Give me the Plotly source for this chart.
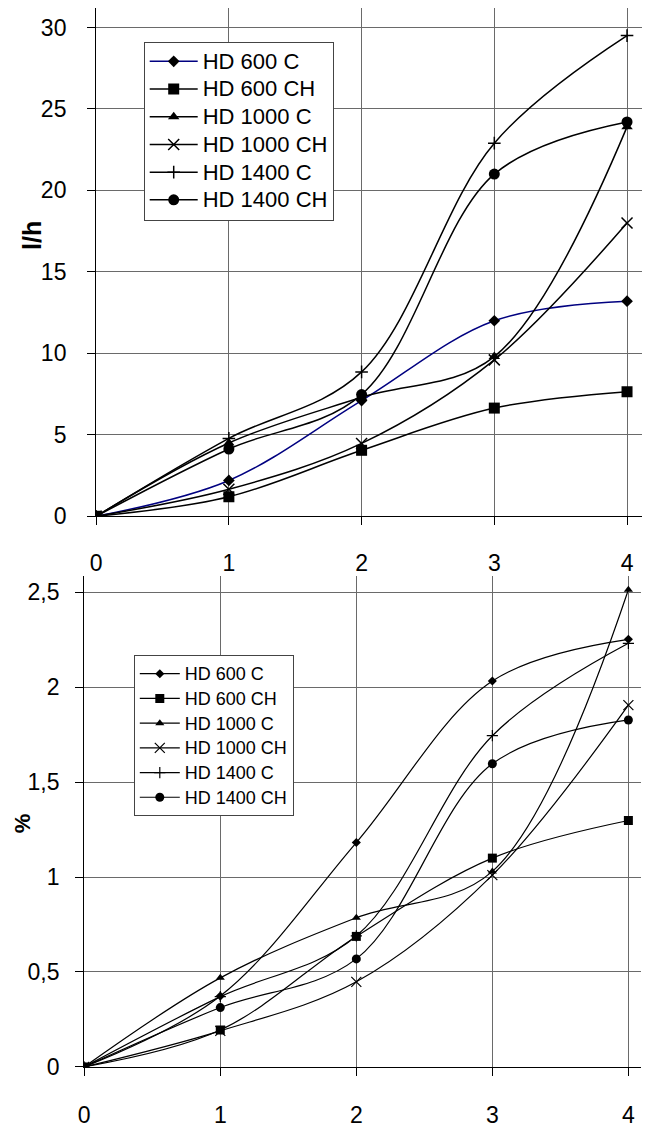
import plotly.graph_objects as go

# ---------------- data ----------------
x_vals = [0, 1, 2, 3, 4]
series_names = ["HD 600 C", "HD 600 CH", "HD 1000 C", "HD 1000 CH", "HD 1400 C", "HD 1400 CH"]

# top chart (l/h)
flow_600C = [0, 2.2, 7.1, 12.0, 13.2]
flow_600CH = [0, 1.2, 4.05, 6.64, 7.65]
flow_1000C = [0, 4.5, 7.3, 9.8, 23.9]
flow_1000CH = [0, 1.66, 4.47, 9.6, 18.0]
flow_1400C = [0, 4.78, 8.86, 22.9, 29.5]
flow_1400CH = [0, 4.13, 7.47, 21.0, 24.2]

# bottom chart (%)
pct_600C = [0, 0.373, 1.182, 2.033, 2.253]
pct_600CH = [0, 0.194, 0.6875, 1.10, 1.298]
pct_1000C = [0, 0.469, 0.786, 1.03, 2.514]
pct_1000CH = [0, 0.19, 0.448, 1.01, 1.906]
pct_1400C = [0, 0.37, 0.69, 1.745, 2.232]
pct_1400CH = [0, 0.3125, 0.569, 1.597, 1.828]

top_tickvals = [0, 5, 10, 15, 20, 25, 30]
top_ticktext = ["0", "5", "10", "15", "20", "25", "30"]
bot_tickvals = [0, 0.5, 1, 1.5, 2, 2.5]
bot_ticktext = ["0", "0,5", "1", "1,5", "2", "2,5"]
x_tickvals = [0, 1, 2, 3, 4]
x_ticktext = ["0", "1", "2", "3", "4"]

top_series = [flow_600C, flow_600CH, flow_1000C, flow_1000CH, flow_1400C, flow_1400CH]
bot_series = [pct_600C, pct_600CH, pct_1000C, pct_1000CH, pct_1400C, pct_1400CH]

# ---------------- styles ----------------
FONT = "Liberation Sans, Arial, sans-serif"
symbols = ["diamond", "square", "triangle-up", "x-thin", "cross-thin", "circle"]
top_sizes = [9, 11, 10, 11, 9, 11]
bot_sizes = [7, 9, 8, 10, 8, 9]
top_line_colors = ["#000080", "black", "black", "black", "black", "black"]


def label(name, px):
    return '<span style="font-size:%dpx">%s</span>' % (px, name)


fig = go.Figure()

for i, name in enumerate(series_names):
    thin = symbols[i] in ("x-thin", "cross-thin")
    fig.add_trace(go.Scatter(
        x=x_vals, y=top_series[i], name=label(name, 22), mode="lines+markers",
        line=dict(color=top_line_colors[i], width=1.5, shape="spline", smoothing=1.0),
        marker=dict(symbol=symbols[i], size=top_sizes[i], color="black",
                    line=dict(color="black", width=1.5 if thin else 0)),
        xaxis="x", yaxis="y", legend="legend",
    ))

for i, name in enumerate(series_names):
    thin = symbols[i] in ("x-thin", "cross-thin")
    fig.add_trace(go.Scatter(
        x=x_vals, y=bot_series[i], name=label(name, 18), mode="lines+markers",
        line=dict(color="black", width=1.2, shape="spline", smoothing=1.0),
        marker=dict(symbol=symbols[i], size=bot_sizes[i], color="black",
                    line=dict(color="black", width=1.2 if thin else 0)),
        xaxis="x2", yaxis="y2", legend="legend2",
    ))

W, H = 645, 1129
grid_col = "#6a6a6a"

axis_common = dict(
    showline=True, linecolor="black", linewidth=1.2,
    ticks="outside", ticklen=8, tickcolor="black", tickwidth=1,
    showgrid=True, gridcolor=grid_col, gridwidth=1.2,
    zeroline=False, fixedrange=True,
    tickfont=dict(family=FONT, size=23, color="black"),
)

fig.update_layout(
    width=W, height=H,
    margin=dict(l=0, r=0, t=0, b=0),
    paper_bgcolor="white", plot_bgcolor="white",
    font=dict(family=FONT, color="black"),
    xaxis=dict(domain=[91 / W, 642 / W], range=[0, 4.113], anchor="y",
               tickvals=x_tickvals, ticktext=x_ticktext, ticklabelstandoff=18, **axis_common),
    yaxis=dict(domain=[1 - 522.3 / H, 1 - 8 / H], range=[0, 31.2], anchor="x",
               tickvals=top_tickvals, ticktext=top_ticktext, ticklabelstandoff=16, **axis_common),
    xaxis2=dict(domain=[79 / W, 641 / W], range=[0, 4.093], anchor="y2",
                tickvals=x_tickvals, ticktext=x_ticktext, ticklabelstandoff=19, **axis_common),
    yaxis2=dict(domain=[1 - 1079.3 / H, 1 - 583 / H], range=[0, 2.585], anchor="x2",
                tickvals=bot_tickvals, ticktext=bot_ticktext, ticklabelstandoff=11, **axis_common),
    legend=dict(x=139 / W, y=1 - 42 / H, xanchor="left", yanchor="top",
                bgcolor="white", bordercolor="#444", borderwidth=1,
                font=dict(family=FONT, size=19, color="black"),
                itemwidth=48, tracegroupgap=0),
    legend2=dict(x=129 / W, y=1 - 663 / H, xanchor="left", yanchor="top",
                 bgcolor="white", bordercolor="#444", borderwidth=1,
                 font=dict(family=FONT, size=16.7, color="black"),
                 itemwidth=40, tracegroupgap=0),
    showlegend=True,
    annotations=[
        dict(text="<b>l/h</b>", x=27 / W, y=1 - 238 / H, xref="paper", yref="paper",
             xanchor="center", yanchor="middle",
             showarrow=False, textangle=-90, font=dict(family=FONT, size=25, color="black")),
        dict(text="<b>%</b>", x=17 / W, y=1 - 833 / H, xref="paper", yref="paper",
             xanchor="center", yanchor="middle",
             showarrow=False, textangle=-90, font=dict(family=FONT, size=22, color="black")),
    ],
)

fig.write_html("out.html")
